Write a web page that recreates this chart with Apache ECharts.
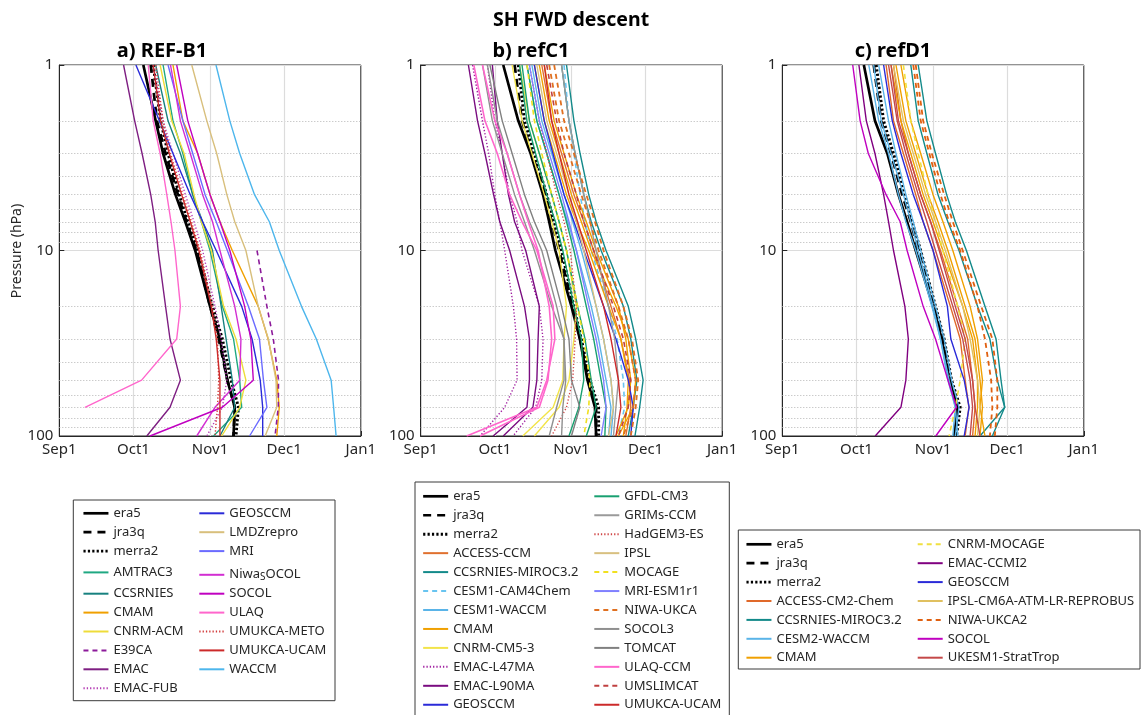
<!DOCTYPE html>
<html>
<head>
<meta charset="utf-8">
<title>SH FWD descent</title>
<script src="https://cdn.jsdelivr.net/npm/echarts@6/dist/echarts.min.js"></script>
<style>
  html, body { margin: 0; padding: 0; background: #ffffff; }
  #chart { width: 1142px; height: 715px; }
</style>
</head>
<body>
<div id="chart"></div>
<script>
// pressure levels (hPa) of every profile
const levels = [1, 2, 3, 5, 7, 10, 20, 30, 50, 70, 100]
// x axis in days after 1 Sep
const monthTicks = [0, 30, 61, 91, 122]
const monthLabels = ['Sep1', 'Oct1', 'Nov1', 'Dec1', 'Jan1']
const minorLevels = [2, 3, 4, 5, 6, 7, 8, 9, 20, 30, 40, 50, 60, 70, 80, 90]

// a) REF-B1 : transition day at each level
const namesB1 = ['era5', 'jra3q', 'merra2', 'AMTRAC3', 'CCSRNIES', 'CMAM', 'CNRM-ACM', 'E39CA', 'EMAC', 'EMAC-FUB',
  'GEOSCCM', 'LMDZrepro', 'MRI', 'NiwaSOCOL', 'SOCOL', 'ULAQ', 'UMUKCA-METO', 'UMUKCA-UCAM', 'WACCM']
const daysB1 = [
  [34, 39, 42, 47, 51, 55, 61, 65, 68, 71, 70.5],
  [37, 39.5, 43, 48, 51.5, 55.5, 61, 64.5, 68, 71, 70.5],
  [38, 41, 44, 48.5, 52, 56, 62, 66, 69.5, 72.5, 71.5],
  [42, 46, 50, 54, 57.5, 61, 66, 70.5, 73, 73.8, 62.4],
  [39, 44, 49, 54, 58, 62, 65.5, 67.5, 70, 71, 65],
  [46, 50, 56, 61, 65, 70, 80.5, 84.5, 88, 89, 88],
  [40.8, 45.5, 50.5, 54.5, 57.5, 61.5, 66.5, 71.5, 75.5, 73, 65.7],
  [null, null, null, null, null, 80, 84, 86.6, 88.7, 88.6, 87.3],
  [26, 30.5, 33.5, 37, 38.8, 40, 43, 44.8, 49, 44.8, 35.4],
  [38, 42, 46, 51, 54.5, 58, 63, 65.5, 67.8, 66, 59.7],
  [31, 40.5, 46, 53, 58, 63.5, 73.8, 78, 81.3, 82.3, 82.3],
  [53.6, 59.7, 63.7, 67.8, 71, 75.5, 80.5, 84.6, 87.7, 88, 83.3],
  [44, 50, 54, 59, 63.5, 68, 76.5, 81, 82.6, 84, 77],
  [45, 49, 53, 58, 62, 65, 71, 73.5, 73, 63, 55.6],
  [47.5, 52, 56, 61, 65, 69, 75, 77.5, 78.5, 66, 36.7],
  [36, 38, 40.8, 43.5, 45.2, 46.8, 49, 47.5, 33.3, 10.4, null],
  [39, 42, 45, 50, 53.5, 57, 62, 64, 64.5, 64, 63],
  [38, 41, 44.5, 49.5, 53, 56.5, 61.5, 63.5, 65, 65, 65],
  [63.4, 69, 73, 79, 85, 89, 98, 104, 110, 111, 112]
]

// b) refC1 (names with #n are further ensemble members)
const namesC1 = ['era5', 'jra3q', 'merra2', 'ACCESS-CCM', 'CCSRNIES-MIROC3.2', 'CCSRNIES-MIROC3.2#2', 'CESM1-CAM4Chem',
  'CESM1-WACCM', 'CESM1-WACCM#2', 'CMAM', 'CMAM#2', 'CMAM#3', 'CNRM-CM5-3', 'CNRM-CM5-3#2', 'EMAC-L47MA', 'EMAC-L47MA#2',
  'EMAC-L90MA', 'EMAC-L90MA#2', 'GEOSCCM', 'GFDL-CM3', 'GFDL-CM3#2', 'GFDL-CM3#3', 'GRIMs-CCM', 'HadGEM3-ES', 'IPSL',
  'MOCAGE', 'MRI-ESM1r1', 'NIWA-UKCA', 'NIWA-UKCA#2', 'SOCOL3', 'SOCOL3#2', 'TOMCAT', 'ULAQ-CCM', 'ULAQ-CCM#2',
  'UMSLIMCAT', 'UMUKCA-UCAM']
const daysC1 = [
  [33.4, 39.5, 44.5, 49.5, 52, 54.5, 61, 64.4, 67.5, 70.5, 71],
  [38, 41, 45, 50.5, 53, 56, 61.5, 64.5, 68, 71, 71],
  [39.5, 42, 46, 51, 54, 57, 62, 65, 68.5, 72, 72],
  [49, 53, 57, 62, 66, 70, 77, 81, 84.5, 85, 83],
  [59, 62, 64.5, 68, 71, 75, 84, 87, 90, 88.6, 86.7],
  [57, 60, 62.5, 66, 69, 73, 82, 85, 87.5, 86, 84],
  [58, 60, 62, 64.5, 66.5, 69, 76, 79.5, 82, 82.5, 80],
  [43, 47, 51, 56, 59.5, 63, 69, 72, 75, 77, 76],
  [45, 49, 53, 58, 61.5, 65, 71, 74, 77, 78, 77],
  [48, 52, 56, 61, 65, 69, 79, 84, 87, 86, 80],
  [50, 54, 58, 63, 67, 71, 80, 83, 85, 84, 79],
  [46, 50, 54, 59, 63, 68, 76, 81, 84, 83.5, 82],
  [37, 41, 45, 50, 53, 56, 59, 58, 57.5, 53.6, 41.3],
  [40, 44, 48, 53, 56, 59, 63, 62, 60, 56, 46],
  [21, 25, 27.5, 30, 32, 34, 37.5, 38.8, 39, 34, 24],
  [27, 30, 33, 36, 39, 41, 48, 49.5, 49, 46.5, 37.4],
  [19.3, 23, 26, 29.5, 32, 36, 42, 44, 44, 43, 29.3],
  [29, 31, 33, 35.5, 38, 42.5, 48, 47.5, 47, 45.4, 33.4],
  [46, 50, 53.5, 58, 62, 66, 74, 79, 84, 86, 85],
  [41, 44, 48, 53, 56, 59, 63.5, 66.5, 69, 71, 67],
  [43, 47, 51, 56, 59, 62, 67, 70, 73, 75, 74.5],
  [40, 43, 46.5, 51, 54.5, 57.5, 62, 65, 66, 64, 60],
  [57, 60, 62.5, 66, 68.5, 71, 76, 78.5, 80, 79, 78],
  [44, 48, 51, 55, 58, 60.5, 63, 62.5, 61.5, 59, 53],
  [47, 51, 55, 60, 63, 66, 71, 74, 77, 78, 76],
  [43, 46, 49, 53, 56, 59, 63.5, 66, 68.5, 68, 66],
  [44, 48, 52, 57, 60, 63, 68, 71, 74, 75, 73],
  [52, 56, 60, 65, 68.5, 72, 80, 84, 87, 86, 82],
  [54, 58, 62, 67, 70.5, 74, 82, 85.5, 88, 87, 85],
  [25, 29, 33, 38, 42, 46, 53, 58, 58.7, 57.5, 57],
  [27, 31, 35, 40, 44, 49, 55, 58, 58, 55, 52],
  [28, 33, 37, 42, 46, 51, 57, 60, 61, 64.4, 61],
  [21.5, 26, 31, 36, 41, 47, 53.6, 54.3, 51, 47, 18.6],
  [25, 30, 35, 40, 43.5, 47.5, 52, 53, 51.5, 48, 24],
  [51, 55, 58, 63, 66, 70, 78, 82, 85, 84, 80],
  [50, 53, 56, 60, 63.5, 67, 74, 77, 80, 81, 79]
]

// c) refD1
const namesD1 = ['era5', 'jra3q', 'merra2', 'ACCESS-CM2-Chem', 'ACCESS-CM2-Chem#2', 'CCSRNIES-MIROC3.2',
  'CCSRNIES-MIROC3.2#2', 'CESM2-WACCM', 'CESM2-WACCM#2', 'CESM2-WACCM#3', 'CMAM', 'CMAM#2', 'CMAM#3', 'CNRM-MOCAGE',
  'EMAC-CCMI2', 'GEOSCCM', 'IPSL-CM6A-ATM-LR-REPROBUS', 'NIWA-UKCA2', 'NIWA-UKCA2#2', 'SOCOL', 'UKESM1-StratTrop',
  'UKESM1-StratTrop#2']
const daysD1 = [
  [33, 37.5, 42.5, 47, 50.5, 54, 61, 64.5, 67.5, 71, 69.6],
  [37, 40, 44, 48.5, 52, 55, 61.5, 65, 68, 71, 70],
  [38, 41, 45, 49.5, 52.5, 56, 62, 65.5, 68.5, 72, 70.5],
  [42, 45, 49, 54, 57, 61, 68, 72, 74, 75.5, 74],
  [45, 48, 51, 56, 60, 64, 71, 75, 77, 78, 77],
  [52, 55, 58.5, 63, 67, 71.5, 79, 84, 87, 90, 85],
  [55, 58.5, 62, 66.5, 70, 74.5, 82, 86.5, 88.5, 90, 80],
  [37, 40, 44, 49, 52, 55, 61, 64, 67, 70, 69],
  [39, 43, 46, 50, 53, 56, 62, 65.5, 68.5, 71.5, 70],
  [35, 39, 43, 47, 50, 54, 60.5, 64, 67.5, 70, 71],
  [44, 48, 52, 57, 61, 65, 73, 77, 79, 79, 78],
  [46, 50, 54, 59, 63, 67, 74, 78, 80, 81, 80],
  [48, 52, 56, 61, 65, 69, 76, 79, 81, 80, 82],
  [49, 52, 55, 59, 62, 65, 71, 74, 72, 70, 67.5],
  [31, 34, 37.5, 41, 43, 45, 49.6, 51, 50, 48, 37.6],
  [41, 44.5, 48, 53, 57, 61, 66.8, 68.2, 73.6, 75.6, 73.6],
  [45, 49, 53, 58, 62, 66, 73, 76, 79, 80, 79],
  [54, 57, 60.5, 65.5, 69, 73, 80.5, 85, 87, 87, 86],
  [53, 56, 59.5, 64, 67.5, 72, 79, 82, 84.5, 85, 84],
  [28.5, 31.5, 34.8, 42, 47.7, 50.5, 57, 62, 67, 70.5, 62.1],
  [43, 46.5, 50, 55, 58.5, 62, 69, 73, 76, 77, 76],
  [44, 47, 51, 56, 60, 63.5, 70, 74, 77, 78, 80]
]

// legend columns
const legendB1a = ['era5', 'jra3q', 'merra2', 'AMTRAC3', 'CCSRNIES', 'CMAM', 'CNRM-ACM', 'E39CA', 'EMAC', 'EMAC-FUB']
const legendB1b = ['GEOSCCM', 'LMDZrepro', 'MRI', 'NiwaSOCOL', 'SOCOL', 'ULAQ', 'UMUKCA-METO', 'UMUKCA-UCAM', 'WACCM']
const legendC1a = ['era5', 'jra3q', 'merra2', 'ACCESS-CCM', 'CCSRNIES-MIROC3.2', 'CESM1-CAM4Chem', 'CESM1-WACCM',
  'CMAM', 'CNRM-CM5-3', 'EMAC-L47MA', 'EMAC-L90MA', 'GEOSCCM']
const legendC1b = ['GFDL-CM3', 'GRIMs-CCM', 'HadGEM3-ES', 'IPSL', 'MOCAGE', 'MRI-ESM1r1', 'NIWA-UKCA', 'SOCOL3',
  'TOMCAT', 'ULAQ-CCM', 'UMSLIMCAT', 'UMUKCA-UCAM']
const legendD1a = ['era5', 'jra3q', 'merra2', 'ACCESS-CM2-Chem', 'CCSRNIES-MIROC3.2', 'CESM2-WACCM', 'CMAM']
const legendD1b = ['CNRM-MOCAGE', 'EMAC-CCMI2', 'GEOSCCM', 'IPSL-CM6A-ATM-LR-REPROBUS', 'NIWA-UKCA2', 'SOCOL',
  'UKESM1-StratTrop']

const DASH = [5, 4]
const DOT = [1.3, 2]
const styles = {
  'era5': {color: '#000000', width: 2.7, type: 'solid'},
  'jra3q': {color: '#000000', width: 2.7, type: [8, 6]},
  'merra2': {color: '#000000', width: 2.9, type: [2.2, 2.2]},
  'AMTRAC3': {color: '#1fa882', width: 1.4, type: 'solid'},
  'CCSRNIES': {color: '#17817f', width: 1.4, type: 'solid'},
  'CMAM': {color: '#f0a000', width: 1.4, type: 'solid'},
  'CNRM-ACM': {color: '#eedc3a', width: 1.4, type: 'solid'},
  'E39CA': {color: '#8c1a9a', width: 1.6, type: DASH},
  'EMAC': {color: '#7e1e82', width: 1.4, type: 'solid'},
  'EMAC-FUB': {color: '#b43cb4', width: 1.4, type: DOT},
  'GEOSCCM': {color: '#2a2ad8', width: 1.4, type: 'solid'},
  'LMDZrepro': {color: '#d8bf7c', width: 1.4, type: 'solid'},
  'MRI': {color: '#6b6bff', width: 1.4, type: 'solid'},
  'NiwaSOCOL': {color: '#d22ed2', width: 1.4, type: 'solid'},
  'SOCOL': {color: '#c000c0', width: 1.4, type: 'solid'},
  'ULAQ': {color: '#ff66cc', width: 1.4, type: 'solid'},
  'UMUKCA-METO': {color: '#d23c3c', width: 1.4, type: DOT},
  'UMUKCA-UCAM': {color: '#cc2a2a', width: 1.4, type: 'solid'},
  'WACCM': {color: '#4db6ec', width: 1.4, type: 'solid'},
  'ACCESS-CCM': {color: '#e0702e', width: 1.4, type: 'solid'},
  'CCSRNIES-MIROC3.2': {color: '#138a8a', width: 1.4, type: 'solid'},
  'CESM1-CAM4Chem': {color: '#68c4f0', width: 1.6, type: DASH},
  'CESM1-WACCM': {color: '#5ab4e8', width: 1.4, type: 'solid'},
  'CNRM-CM5-3': {color: '#f2e44a', width: 1.4, type: 'solid'},
  'EMAC-L47MA': {color: '#a020a0', width: 1.4, type: DOT},
  'EMAC-L90MA': {color: '#7a0c80', width: 1.4, type: 'solid'},
  'GFDL-CM3': {color: '#18a070', width: 1.4, type: 'solid'},
  'GRIMs-CCM': {color: '#9a9a9a', width: 1.4, type: 'solid'},
  'HadGEM3-ES': {color: '#d04848', width: 1.4, type: DOT},
  'IPSL': {color: '#d8c080', width: 1.4, type: 'solid'},
  'MOCAGE': {color: '#f0e020', width: 1.6, type: DASH},
  'MRI-ESM1r1': {color: '#8080ff', width: 1.4, type: 'solid'},
  'NIWA-UKCA': {color: '#e07020', width: 1.8, type: DASH},
  'SOCOL3': {color: '#8f8f8f', width: 1.4, type: 'solid'},
  'TOMCAT': {color: '#808080', width: 1.4, type: 'solid'},
  'ULAQ-CCM': {color: '#ff66cc', width: 1.6, type: 'solid'},
  'UMSLIMCAT': {color: '#c04040', width: 1.6, type: DASH},
  'ACCESS-CM2-Chem': {color: '#e0692a', width: 1.4, type: 'solid'},
  'CESM2-WACCM': {color: '#5ab4e8', width: 1.4, type: 'solid'},
  'CNRM-MOCAGE': {color: '#f0e040', width: 1.6, type: DASH},
  'EMAC-CCMI2': {color: '#800080', width: 1.4, type: 'solid'},
  'IPSL-CM6A-ATM-LR-REPROBUS': {color: '#e0c060', width: 1.4, type: 'solid'},
  'NIWA-UKCA2': {color: '#e06010', width: 1.8, type: DASH},
  'UKESM1-StratTrop': {color: '#c44848', width: 1.4, type: 'solid'}
}

const panels = [
  {tag: 'a', title: 'a) REF-B1', titleX: 162, names: namesB1, days: daysB1, left: 59.3},
  {tag: 'b', title: 'b) refC1', titleX: 531, names: namesC1, days: daysC1, left: 420.7},
  {tag: 'c', title: 'c) refD1', titleX: 893, names: namesD1, days: daysD1, left: 782.3}
]

const textColor = '#262626'
const fontFamily = 'Noto Sans'

function baseName (n) {
  return n.split('@')[0].split('#')[0]
}

function profile (days) {
  let pts = []
  for (let i = 0; i < days.length; i++) {
    if (days[i] !== null) pts.push([days[i], levels[i]])
  }
  return pts
}

let grids = []
let xAxes = []
let yAxes = []
let series = []
let graphics = []

panels.forEach((p, i) => {
  grids.push({left: p.left, top: 65, width: 301.5, height: 371, show: true, borderColor: textColor,
    borderWidth: 1, outerBoundsMode: 'none'})
  xAxes.push({
    type: 'value', gridIndex: i, min: 0, max: 122,
    axisLine: {show: true, lineStyle: {color: textColor}},
    axisTick: {show: true, inside: true, length: 5, customValues: monthTicks, lineStyle: {color: textColor}},
    axisLabel: {customValues: monthTicks, margin: 6, color: textColor, fontSize: 15, fontFamily: fontFamily,
      formatter: v => monthLabels[monthTicks.indexOf(v)] || ''},
    splitLine: {show: false}
  })
  yAxes.push({
    type: 'log', logBase: 10, gridIndex: i, min: 1, max: 100, inverse: true,
    axisLine: {show: true, lineStyle: {color: textColor}},
    axisTick: {show: true, inside: true, length: 5, lineStyle: {color: textColor}},
    axisLabel: {margin: 6, color: textColor, fontSize: 15, fontFamily: fontFamily},
    splitLine: {show: true, lineStyle: {color: '#dcdcdc', width: 1}}
  })
  // background grid lines
  let marks = minorLevels.map(v => ({yAxis: v, lineStyle: {color: '#b5b5b5', type: [1, 2], width: 1}}))
  monthTicks.slice(1, 4).forEach(v => marks.push({xAxis: v, lineStyle: {color: '#dcdcdc', type: 'solid', width: 1.2}}))
  series.push({
    name: 'grid@' + p.tag, type: 'line', xAxisIndex: i, yAxisIndex: i, data: [], silent: true,
    markLine: {silent: true, symbol: ['none', 'none'], label: {show: false}, z: 1, animation: false, data: marks}
  })
  p.names.forEach((n, k) => {
    let st = styles[baseName(n)]
    series.push({
      name: n + '@' + p.tag, type: 'line', xAxisIndex: i, yAxisIndex: i,
      data: profile(p.days[k]), symbol: 'none', showSymbol: false, z: 3,
      lineStyle: {color: st.color, width: st.width, type: st.type},
      itemStyle: {color: st.color},
      emphasis: {disabled: true}
    })
  })
  graphics.push({type: 'text', x: p.titleX, y: 51, z: 10,
    style: {text: p.title, fill: '#000', font: 'bold 20px "Noto Sans"', align: 'center', verticalAlign: 'middle'}})
})

function legendCol (names, tag, left, top, gap, tallRow) {
  return {
    type: 'plain', orient: 'vertical', left: left, top: top, height: 300, padding: 0,
    itemGap: gap, itemWidth: 25, itemHeight: 14, selectedMode: false,
    itemStyle: {opacity: 0},
    textStyle: {color: textColor, fontSize: 13, fontFamily: fontFamily, lineHeight: 14,
      rich: {
        n: {color: textColor, fontSize: 13, fontFamily: fontFamily, lineHeight: 14, verticalAlign: 'top'},
        s: {color: textColor, fontSize: 10, fontFamily: fontFamily, lineHeight: 10, padding: [8.8, 0, 0, 0], verticalAlign: 'bottom'}
      }},
    formatter: name => {
      let b = baseName(name)
      return b === 'NiwaSOCOL' ? '{n|Niwa}{s|S}{n|OCOL}' : b
    },
    data: names.map((n, k) => {
      let st = styles[n]
      let w = st.color === '#000000' ? st.width : Math.max(st.width, 2)
      let item = {name: n + '@' + tag, itemStyle: {opacity: 0},
        lineStyle: {color: st.color, width: w, type: st.type, opacity: 1}}
      if (k === tallRow) item.textStyle = {lineHeight: 18.8}
      return item
    })
  }
}

const legends = [
  legendCol(legendB1a, 'a', 82, 506.3, 4.9, 3),
  legendCol(legendB1b, 'a', 198.3, 506.3, 4.9, 3),
  legendCol(legendC1a, 'b', 421.7, 489.3, 4.95, -1),
  legendCol(legendC1b, 'b', 593.3, 489.3, 4.95, -1),
  legendCol(legendD1a, 'c', 745, 537.3, 4.9, -1),
  legendCol(legendD1b, 'c', 916.7, 537.3, 4.9, -1)
]

// legend frames
graphics.push({type: 'rect', shape: {x: 73.3, y: 500, width: 261.7, height: 200.7}, z: 0,
  style: {fill: '#ffffff', stroke: '#3a3a3a', lineWidth: 1}})
graphics.push({type: 'rect', shape: {x: 415, y: 482, width: 314.3, height: 245}, z: 0,
  style: {fill: '#ffffff', stroke: '#3a3a3a', lineWidth: 1}})
graphics.push({type: 'rect', shape: {x: 738.3, y: 530, width: 401.7, height: 139}, z: 0,
  style: {fill: '#ffffff', stroke: '#3a3a3a', lineWidth: 1}})
graphics.push({type: 'text', x: 571, y: 20, z: 10,
  style: {text: 'SH FWD descent', fill: '#000', font: 'bold 19.5px "Noto Sans"', align: 'center', verticalAlign: 'middle'}})
graphics.push({type: 'text', x: 17, y: 251, rotation: Math.PI / 2, z: 10,
  style: {text: 'Pressure (hPa)', fill: textColor, font: '14px "Noto Sans"', align: 'center', verticalAlign: 'middle'}})

let chart = echarts.init(document.getElementById('chart'), null, {renderer: 'canvas'})
chart.setOption({
  animation: false,
  backgroundColor: '#ffffff',
  textStyle: {fontFamily: fontFamily},
  grid: grids,
  xAxis: xAxes,
  yAxis: yAxes,
  legend: legends,
  graphic: graphics,
  series: series
})
</script>
</body>
</html>
